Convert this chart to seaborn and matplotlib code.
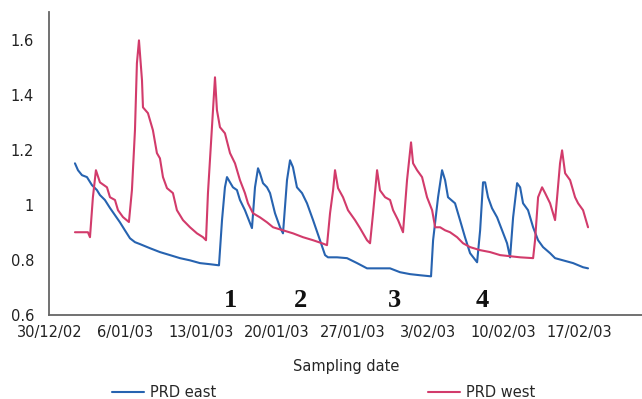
import seaborn as sns
import matplotlib.pyplot as plt
import matplotlib.dates as mdates
import matplotlib.ticker as mticker
import pandas as pd

# days since 30/12/2002 and conductivity values
east_day = [2.36, 2.64, 3.01, 3.47, 3.93, 4.39, 4.67, 5.13, 5.60, 6.06, 6.52, 6.98, 7.45,
            7.91, 8.37, 9.30, 10.22, 11.15, 12.07, 13.0, 13.92, 14.85, 15.68, 15.96, 16.23,
            16.42, 16.70, 16.97, 17.34, 17.62, 18.08, 18.55, 18.73, 19.01, 19.29, 19.47,
            19.75, 20.12, 20.40, 20.86, 21.32, 21.6, 21.97, 22.25, 22.52, 22.89, 23.36,
            23.82, 24.38, 25.02, 25.49, 25.76, 26.6, 27.52, 28.45, 29.37, 30.57, 31.50,
            32.42, 33.35, 34.27, 35.29, 35.48, 35.94, 36.31, 36.59, 36.86, 37.51, 37.97,
            38.43, 38.90, 39.55, 39.83, 40.10, 40.29, 40.56, 40.93, 41.40, 41.86, 42.32,
            42.60, 42.88, 43.25, 43.53, 43.80, 44.26, 44.73, 45.19, 45.65, 46.30, 46.76,
            47.50, 48.43, 49.35, 49.81]
east_val = [1.151, 1.126, 1.108, 1.101, 1.072, 1.054, 1.036, 1.018, 0.989, 0.963, 0.937,
            0.908, 0.879, 0.865, 0.858, 0.843, 0.829, 0.818, 0.807, 0.799, 0.789, 0.785,
            0.781, 0.945, 1.064, 1.101, 1.082, 1.064, 1.054, 1.018, 0.981, 0.934, 0.916,
            1.064, 1.133, 1.115, 1.079, 1.064, 1.043, 0.970, 0.919, 0.897, 1.090, 1.162,
            1.137, 1.064, 1.043, 1.006, 0.945, 0.872, 0.818, 0.810, 0.810, 0.807, 0.789,
            0.770, 0.770, 0.770, 0.756, 0.749, 0.745, 0.741, 0.872, 1.028, 1.126, 1.090,
            1.028, 1.006, 0.945, 0.883, 0.825, 0.792, 0.908, 1.082, 1.082, 1.028, 0.988,
            0.955, 0.908, 0.861, 0.810, 0.955, 1.079, 1.064, 1.006, 0.981, 0.919, 0.872,
            0.847, 0.825, 0.807, 0.799, 0.789, 0.774, 0.770]

west_day = [2.36, 3.56, 3.75, 4.02, 4.30, 4.67, 5.32, 5.60, 6.06, 6.34, 6.80, 7.35, 7.63,
            7.91, 8.09, 8.28, 8.56, 8.65, 9.11, 9.57, 9.94, 10.22, 10.50, 10.87, 11.42,
            11.79, 12.35, 13.0, 13.64, 14.2, 14.48, 14.66, 15.03, 15.31, 15.49, 15.77,
            16.23, 16.70, 17.16, 17.62, 18.08, 18.36, 18.82, 19.47, 20.12, 20.68, 21.6,
            22.52, 23.45, 24.38, 25.21, 25.67, 25.95, 26.23, 26.41, 26.69, 27.15, 27.61,
            28.26, 28.72, 29.37, 29.65, 29.93, 30.30, 30.57, 31.04, 31.50, 31.78, 32.24,
            32.70, 33.07, 33.44, 33.63, 34.0, 34.46, 34.92, 35.39, 35.67, 36.13, 36.59,
            37.05, 37.70, 38.25, 38.90, 39.83, 40.75, 41.68, 42.60, 43.53, 44.73, 44.91,
            45.19, 45.56, 45.84, 46.30, 46.76, 46.95, 47.22, 47.41, 47.69, 48.15, 48.61,
            48.89, 49.35, 49.81]
west_val = [0.901, 0.901, 0.883, 1.028, 1.126, 1.082, 1.064, 1.028, 1.018, 0.981, 0.956,
            0.938, 1.054, 1.271, 1.514, 1.597, 1.452, 1.354, 1.333, 1.271, 1.188, 1.169,
            1.101, 1.061, 1.043, 0.981, 0.945, 0.919, 0.897, 0.883, 0.872, 1.043, 1.282,
            1.463, 1.344, 1.282, 1.260, 1.188, 1.151, 1.090, 1.043, 1.006, 0.970, 0.955,
            0.937, 0.919, 0.908, 0.897, 0.883, 0.872, 0.861, 0.854, 0.970, 1.053, 1.126,
            1.061, 1.028, 0.981, 0.945, 0.916, 0.872, 0.861, 0.970, 1.126, 1.053, 1.028,
            1.018, 0.981, 0.945, 0.901, 1.090, 1.227, 1.151, 1.126, 1.101, 1.028, 0.981,
            0.919, 0.919, 0.908, 0.901, 0.883, 0.861, 0.847, 0.836, 0.829, 0.818, 0.814,
            0.810, 0.807, 0.872, 1.028, 1.064, 1.043, 1.006, 0.945, 1.028, 1.151, 1.198,
            1.115, 1.090, 1.028, 1.006, 0.981, 0.919]

event_labels = ["1", "2", "3", "4"]
event_day = [16.7, 23.2, 31.95, 40.0]

tick_dates = pd.date_range("2002-12-30", periods=8, freq="7D")
start = pd.Timestamp("2002-12-30")

df = pd.concat([
    pd.DataFrame({"date": start + pd.to_timedelta(east_day, unit="D"), "value": east_val, "site": "PRD east"}),
    pd.DataFrame({"date": start + pd.to_timedelta(west_day, unit="D"), "value": west_val, "site": "PRD west"}),
])

sns.set_style("white")
plt.rcParams["font.family"] = ["DejaVu Sans"]

fig = plt.figure(figsize=(6.42, 3.99), dpi=100)
ax = fig.add_axes([0.077, 0.21, 0.923, 0.76])

sns.lineplot(data=df, x="date", y="value", hue="site",
             palette={"PRD east": "#2763b0", "PRD west": "#d23b6b"},
             linewidth=1.5, ax=ax)

ax.set_xlim(start, start + pd.Timedelta(days=54.8))
ax.set_ylim(0.6, 1.7)
ax.set_yticks([0.6, 0.8, 1.0, 1.2, 1.4, 1.6])
ax.yaxis.set_major_formatter(mticker.FuncFormatter(lambda v, p: f"{v:g}"))
ax.set_xticks(mdates.date2num(tick_dates))
ax.xaxis.set_major_formatter(mticker.FuncFormatter(
    lambda v, p: (lambda d: f"{d.day}/{d.month:02d}/{d.year % 100:02d}")(mdates.num2date(v))))

ax.set_xlabel("Sampling date", fontsize=10.5, labelpad=14)
ax.set_ylabel("")
ax.tick_params(axis="both", labelsize=10.5, colors="#222222", length=4, width=1,
               color="#666666", pad=3)
ax.tick_params(axis="y", pad=7)
for s in ["top", "right"]:
    ax.spines[s].set_visible(False)
for s in ["left", "bottom"]:
    ax.spines[s].set_color("#666666")
    ax.spines[s].set_linewidth(1.3)

for lab, d in zip(event_labels, event_day):
    ax.text(start + pd.Timedelta(days=d), 0.655, lab, ha="center", va="center",
            fontsize=19, fontweight="bold", family="Liberation Serif", color="#111111")

sns.move_legend(ax, "center", bbox_to_anchor=(0.463, -0.255), ncol=2, frameon=False,
                title=None, fontsize=10.5, handlelength=2.2, columnspacing=14.5,
                handletextpad=0.4)

fig.savefig("out.png", dpi=100)
